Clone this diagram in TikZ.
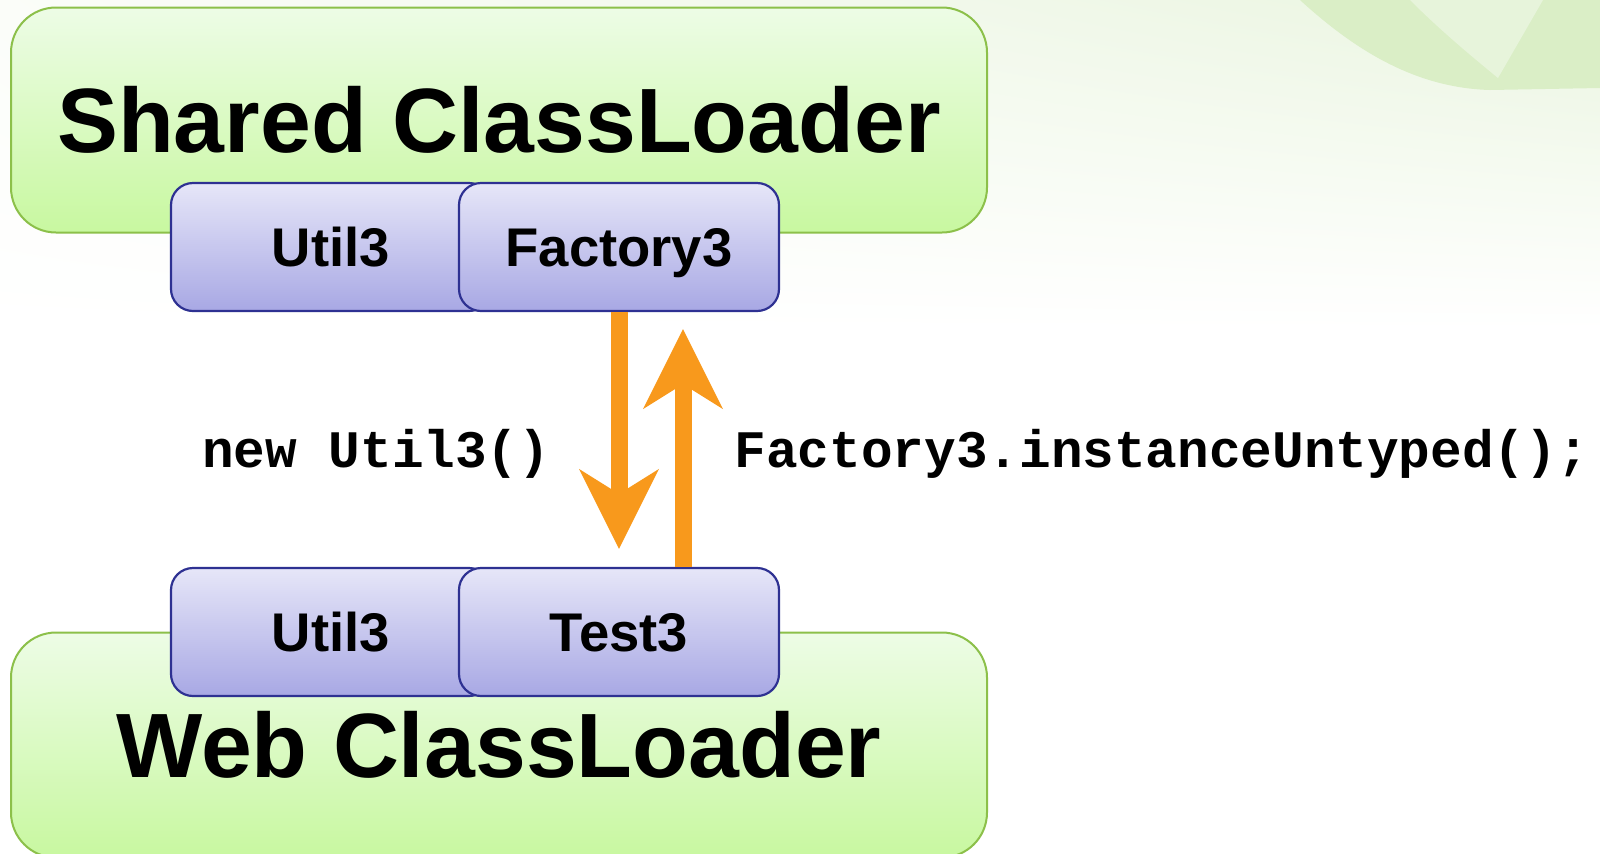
\documentclass[tikz,border=0pt]{standalone}
\usepackage{fontspec}
\setmainfont{Liberation Sans}
\setmonofont{Liberation Mono}
\usetikzlibrary{arrows.meta,shadings}
\definecolor{bgtint}{HTML}{EAF5E0}
\definecolor{swooshdark}{HTML}{DAEEC6}
\definecolor{swooshlight}{HTML}{E7F4DB}
\definecolor{loaderline}{HTML}{8CC04A}
\definecolor{loadertop}{HTML}{EDFCE6}
\definecolor{loaderbot}{HTML}{C8F8A0}
\definecolor{classline}{HTML}{2E3192}
\definecolor{classtop}{HTML}{E6E6F8}
\definecolor{classbot}{HTML}{A8A8E4}
\definecolor{callorange}{HTML}{F8991C}
\tikzset{
  loader/.style={draw=loaderline, line width=0.2mm, rounded corners=4.5mm,
    top color=loadertop, bottom color=loaderbot,
    minimum width=97.6mm, minimum height=22.5mm, inner sep=0pt,
    text height=18.6pt, text depth=0pt, font=\fontsize{26}{30}\selectfont\bfseries},
  classbox/.style={draw=classline, line width=0.22mm, rounded corners=2.2mm,
    top color=classtop, bottom color=classbot,
    minimum width=32mm, minimum height=12.8mm, inner sep=0pt,
    text height=11.2pt, text depth=0pt, font=\fontsize{15.5}{18}\selectfont\bfseries},
  call/.style={draw=callorange, line width=1.7mm,
    -{Stealth[length=8mm,width=8mm,inset=2.5mm,line width=0pt]}},
  code/.style={font=\fontsize{15}{18}\selectfont\ttfamily\bfseries, inner sep=0pt}
}
\begin{document}
\begin{tikzpicture}[x=0.1mm,y=-0.1mm]
	\useasboundingbox (0,0) rectangle (1600,853);
	% background
	\fill[white] (0,0) rectangle (1600,853);
	\shade[upper right=bgtint, upper left=white!80!bgtint, lower left=white, lower right=white] (0,0) rectangle (1600,330);
	\fill[swooshdark] (1300,0) .. controls (1360,55) and (1420,88) .. (1490,90) -- (1600,88) -- (1600,0) -- cycle;
	\fill[swooshlight] (1410,0) .. controls (1440,30) and (1470,55) .. (1498,78) -- (1543,0) -- cycle;

	\node[loader] (shared) at (499,120) {Shared ClassLoader};
	\node[classbox] (utilTop) at (331,247) {Util3};
	\node[classbox] (facTop) at (619,247) {Factory3};

	\node[loader] (web) at (499,745) {Web ClassLoader};
	\node[classbox] (utilBot) at (331,632) {Util3};
	\node[classbox] (tstBot) at (619,632) {Test3};

	\draw[call, shorten >=1.8mm] (facTop.south) -- (facTop.south |- tstBot.north);
	\draw[call, shorten >=1.7mm] ([xshift=6.4mm]tstBot.north) -- ([xshift=6.4mm]facTop.south);

	\node[code, anchor=base east] (newLbl) at (551,467) {new Util3()};
	\node[code, anchor=base west] (callLbl) at (734,467) {Factory3.instanceUntyped();};
\end{tikzpicture}
\end{document}
